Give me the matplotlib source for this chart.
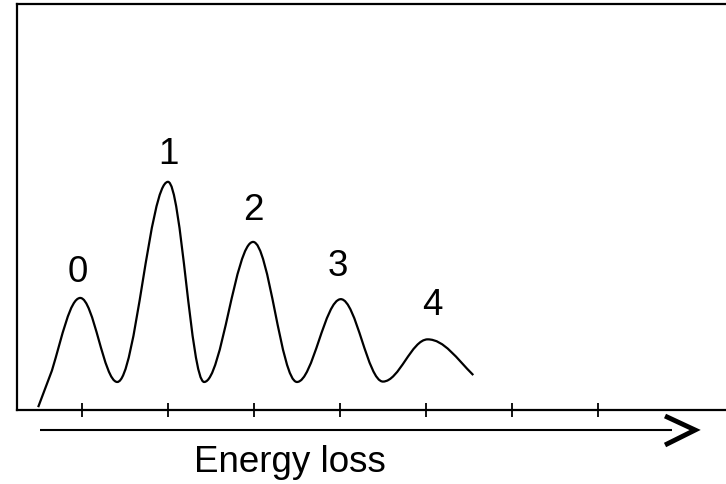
import matplotlib
matplotlib.use('Agg')
import matplotlib.pyplot as plt
from matplotlib.path import Path
from matplotlib.patches import PathPatch

plt.rcParams['font.family'] = ['Liberation Sans', 'DejaVu Sans']

# Anchor points of the energy-loss spectrum (start, kink, then alternating peaks/valleys, end)
anchor_x = [-0.51, -0.35, -0.02, 0.41, 1.0, 1.42, 1.99, 2.5, 3.01, 3.5, 4.02, 4.55]
anchor_y = [0.7, 9.7, 27.6, 6.9, 56.2, 6.9, 41.4, 6.9, 27.3, 7.0, 17.4, 8.6]
# tangent slope (dy/dx) leaving/arriving at each anchor
anchor_slope = [56, 70, 0, 0, 0, 0, 0, 0, 0, 0, 0, -21]

peak_labels = ['0', '1', '2', '3', '4']
label_x = [-0.05, 1.0, 1.99, 2.97, 4.08]
label_y = [34.2, 63.1, 49.5, 35.5, 26.1]

tick_positions = [0, 1, 2, 3, 4, 5, 6]
axis_label = 'Energy loss'

fig = plt.figure(figsize=(7.26, 4.85), dpi=100)
ax = fig.add_axes([17 / 726, 74 / 485, (745 - 17) / 726, 406 / 485])
ax.set_xlim(-0.756, 7.71)
ax.set_ylim(0, 100)

# Build a smooth curve through the anchors
verts = [(anchor_x[0], anchor_y[0]), (anchor_x[1], anchor_y[1])]
codes = [Path.MOVETO, Path.LINETO]
k = 0.36
for i in range(1, len(anchor_x) - 1):
    x0, y0, m0 = anchor_x[i], anchor_y[i], anchor_slope[i]
    x1, y1, m1 = anchor_x[i + 1], anchor_y[i + 1], anchor_slope[i + 1]
    dx = x1 - x0
    verts += [(x0 + k * dx, y0 + m0 * k * dx),
              (x1 - k * dx, y1 - m1 * k * dx),
              (x1, y1)]
    codes += [Path.CURVE4] * 3
ax.add_patch(PathPatch(Path(verts, codes), fill=False, lw=1.6, ec='black',
                       capstyle='butt', joinstyle='round'))

for lab, lx, ly in zip(peak_labels, label_x, label_y):
    ax.text(lx, ly, lab, ha='center', va='center', fontsize=26.5, color='black')

for s in ['top', 'left', 'bottom']:
    ax.spines[s].set_linewidth(1.6)
    ax.spines[s].set_color('black')
ax.spines['right'].set_visible(False)

ax.set_xticks(tick_positions)
ax.set_xticklabels([])
ax.set_yticks([])
ax.tick_params(axis='x', direction='inout', length=10, width=1.3, color='black')

# Arrow below the axis
ax.plot([-0.49, 6.86], [-4.93, -4.93], color='black', lw=1.5, clip_on=False,
        solid_capstyle='butt')
ax.plot([6.78, 7.13, 6.78], [-1.48, -4.93, -8.62], color='black', lw=3.5,
        clip_on=False, solid_joinstyle='miter', solid_capstyle='butt')

ax.text(2.42, -12.8, axis_label, ha='center', va='center', fontsize=26.5,
        color='black', clip_on=False)

fig.savefig('out.png', dpi=100)
